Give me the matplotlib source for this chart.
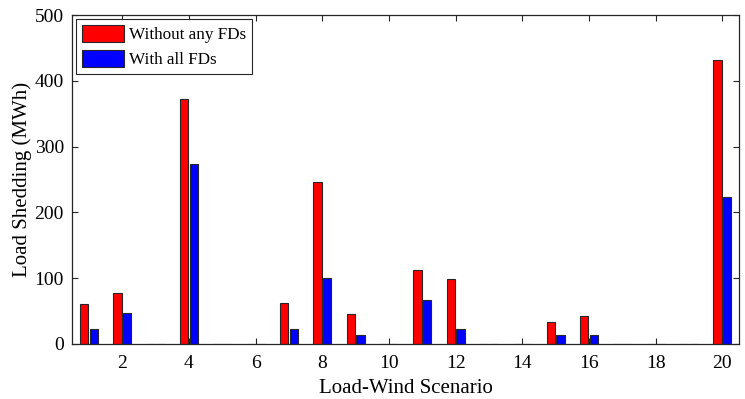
import numpy as np
import matplotlib.pyplot as plt

plt.rcParams['font.family'] = ['Liberation Serif', 'DejaVu Serif']

scenarios = np.arange(1, 21)
without_fds = [61, 77, 0, 372, 0, 0, 63, 247, 45, 0,
               113, 99, 0, 0, 34, 43, 0, 0, 0, 432]
with_fds = [22, 47, 0, 274, 0, 0, 23, 100, 13, 0,
            67, 23, 0, 0, 14, 14, 0, 0, 0, 223]

fig = plt.figure(figsize=(7.45, 3.99), dpi=100)
ax = fig.add_axes([0.097, 0.138, 0.895, 0.824])

w = 0.255
off = 0.145
ax.bar(scenarios - off, without_fds, w, color='#ff0000', edgecolor='#262626',
       linewidth=0.8, label='Without any FDs')
ax.bar(scenarios + off, with_fds, w, color='#0000ff', edgecolor='#262626',
       linewidth=0.8, label='With all FDs')

ax.set_xlim(0.5, 20.5)
ax.set_ylim(0, 500)
ax.set_xticks(np.arange(2, 21, 2))
ax.set_yticks(np.arange(0, 501, 100))
ax.tick_params(direction='in', top=True, right=True, labelsize=14, length=4,
               color='#262626')
ax.tick_params(axis='x', pad=8)
ax.tick_params(axis='y', pad=6)
for s in ax.spines.values():
    s.set_color('#262626')
    s.set_linewidth(0.9)

ax.set_xlabel('Load-Wind Scenario', fontsize=15, labelpad=5)
ax.set_ylabel('Load Shedding (MWh)', fontsize=15, labelpad=2)

leg = ax.legend(loc='upper left', fontsize=12.3, fancybox=False, framealpha=1,
                edgecolor='#262626', handlelength=2.5, handleheight=1.15,
                borderaxespad=0.2, borderpad=0.35, labelspacing=0.4,
                handletextpad=0.25)
leg.get_frame().set_linewidth(0.8)

fig.savefig('out.png', dpi=100)
